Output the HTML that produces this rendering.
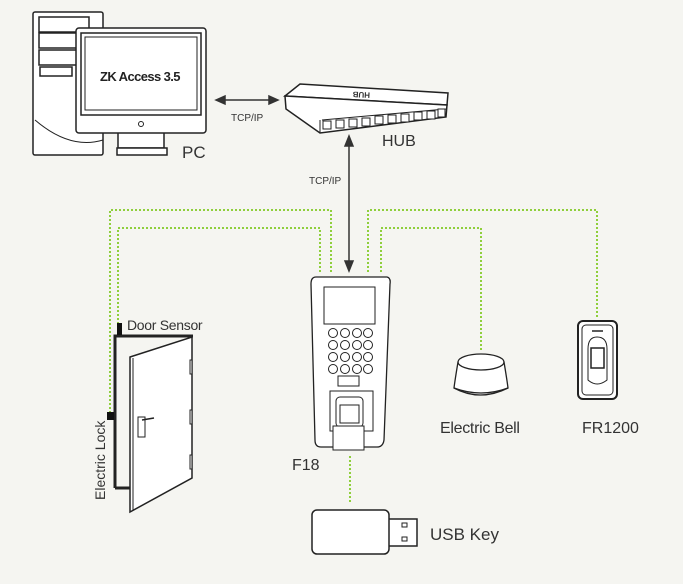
<!DOCTYPE html>
<html><head><meta charset="utf-8"><style>
html,body{margin:0;padding:0;background:#f5f5f1;}
svg{display:block;}
text{font-family:"Liberation Sans",sans-serif;fill:#333;}
</style></head><body>
<svg width="683" height="584" viewBox="0 0 683 584" xmlns="http://www.w3.org/2000/svg">
<rect width="683" height="584" fill="#f5f5f1"/>
<g fill="none" stroke="#8fcf3c" stroke-width="2" stroke-dasharray="2,2">
<polyline points="331,272 331,210 110,210 110,412"/>
<polyline points="320,272 320,228 118,228 118,325"/>
<polyline points="368,272 368,210 597,210 597,318"/>
<polyline points="381,272 381,228 481,228 481,350"/>
<line x1="350" y1="456" x2="350" y2="503"/>
</g>
<g stroke="#222" fill="#fff" stroke-width="1.5">
<rect x="33" y="12" width="70" height="143" rx="2"/>
<rect x="39" y="17" width="50" height="15" fill="#fff"/>
<rect x="39" y="33" width="50" height="15"/>
<rect x="39" y="50" width="50" height="15"/>
<rect x="40" y="67" width="32" height="9"/>
<path d="M35 120 Q70 150 103 140" fill="none" stroke-width="1"/>
<rect x="118" y="131" width="46" height="17"/>
<rect x="117" y="148" width="50" height="7"/>
<rect x="76" y="28" width="130" height="105" rx="3"/>
<rect x="81" y="33" width="120" height="82" stroke-width="1.5"/>
<rect x="85" y="37" width="112" height="73" stroke-width="1"/>
<circle cx="141" cy="124" r="2.5" stroke-width="1"/>
</g>
<text x="100" y="81" font-size="13" font-weight="bold" letter-spacing="-0.6" style="fill:#222">ZK Access 3.5</text>
<text x="182" y="158" font-size="17" fill="#555">PC</text>
<g stroke="#333" stroke-width="1.5" fill="#333">
<line x1="222" y1="100" x2="272" y2="100"/>
<polygon points="216,100 225,96 225,104"/>
<polygon points="278,100 269,96 269,104"/>
<line x1="349" y1="142" x2="349" y2="264"/>
<polygon points="349,136 345,146 353,146"/>
<polygon points="349,271 345,261 353,261"/>
</g>
<text x="231" y="121" font-size="10" fill="#444">TCP/IP</text>
<text x="309" y="184" font-size="10" fill="#444">TCP/IP</text>
<g stroke="#222" stroke-width="1.5" fill="#fff">
<polygon points="285,96 300,84 448,93 447,105"/>
<polygon points="285,96 447,105 446,117 320,133 286,109"/>
<path d="M320 120 L320 133 M322 120 L446 109" fill="none" stroke-width="1"/>
</g>
<g fill="#fff" stroke="#222" stroke-width="1">
<rect x="323" y="121" width="8" height="8"/><rect x="336" y="120" width="8" height="8"/><rect x="349" y="119" width="8" height="8"/><rect x="362" y="118" width="8" height="8"/><rect x="375" y="116" width="8" height="8"/><rect x="388" y="115" width="8" height="8"/><rect x="401" y="114" width="8" height="8"/><rect x="414" y="112" width="8" height="8"/><rect x="427" y="111" width="8" height="8"/><rect x="438" y="109" width="7" height="8"/>
</g>
<text x="350" y="98" font-size="8" font-weight="bold" transform="rotate(183 360 95)" fill="#333">HUB</text>
<text x="382" y="146" font-size="16" fill="#555">HUB</text>
<g stroke="#222" fill="#fff" stroke-width="1.3">
<path d="M316 277 L387 277 Q391 278 390 284 L384 440 Q383 447 377 447 L321 447 Q315 447 315 440 L311 284 Q311 277 316 277Z"/>
<rect x="324" y="287" width="51" height="37" stroke-width="1"/>
<rect x="338" y="376" width="21" height="10" stroke-width="1"/>
<rect x="330" y="391" width="43" height="40" stroke-width="1"/>
<rect x="336" y="397" width="27" height="30" rx="4" stroke-width="1"/>
<rect x="340" y="405" width="19" height="18" stroke-width="1"/>
<rect x="333" y="426" width="31" height="24" stroke-width="1"/>
</g>
<g fill="#fff" stroke="#222" stroke-width="1">
<circle cx="333" cy="333" r="4.5"/><circle cx="345" cy="333" r="4.5"/><circle cx="357" cy="333" r="4.5"/><circle cx="368" cy="333" r="4.5"/>
<circle cx="333" cy="345" r="4.5"/><circle cx="345" cy="345" r="4.5"/><circle cx="357" cy="345" r="4.5"/><circle cx="368" cy="345" r="4.5"/>
<circle cx="333" cy="357" r="4.5"/><circle cx="345" cy="357" r="4.5"/><circle cx="357" cy="357" r="4.5"/><circle cx="368" cy="357" r="4.5"/>
<circle cx="333" cy="369" r="4.5"/><circle cx="345" cy="369" r="4.5"/><circle cx="357" cy="369" r="4.5"/><circle cx="368" cy="369" r="4.5"/>
</g>
<text x="292" y="470" font-size="16" fill="#555">F18</text>
<g stroke="#222" fill="#fff" stroke-width="1.5">
<rect x="388" y="519" width="29" height="27"/>
<rect x="312" y="510" width="77" height="44" rx="5"/>
<rect x="402" y="523" width="5" height="4" stroke-width="1"/>
<rect x="402" y="537" width="5" height="4" stroke-width="1"/>
</g>
<text x="430" y="540" font-size="17" fill="#555">USB Key</text>
<g stroke="#222" fill="#fff" stroke-width="1.5">
<polyline points="115,488 115,336 193,336" fill="none" stroke-width="3"/>
<polyline points="115,488 132,488" fill="none" stroke-width="3"/>
<polygon points="130,357 192,337 192,478 130,512"/>
<line x1="133" y1="358" x2="133" y2="510" stroke-width="1"/>
<rect x="138" y="417" width="7" height="20" stroke-width="1"/>
<path d="M142 420 L154 418" stroke-width="1.5"/>
<rect x="190" y="360" width="2" height="14" stroke-width="1"/>
<rect x="190" y="410" width="2" height="14" stroke-width="1"/>
<rect x="190" y="455" width="2" height="14" stroke-width="1"/>
</g>
<rect x="117" y="323" width="5" height="12" fill="#111"/>
<rect x="107" y="412" width="7" height="8" fill="#111"/>
<text x="127" y="330" font-size="14" letter-spacing="-0.3" fill="#333">Door Sensor</text>
<text transform="translate(105 500) rotate(-90)" font-size="14" fill="#333">Electric Lock</text>
<g stroke="#222" fill="#fff" stroke-width="1.3">
<path d="M458 362 Q455 380 454 388 Q480 402 508 388 Q507 380 504 362Z"/>
<ellipse cx="481" cy="362" rx="23" ry="8"/>
<path d="M454 388 Q481 398 508 388" fill="none"/>
</g>
<text x="440" y="433" font-size="16" letter-spacing="-0.3" fill="#555">Electric Bell</text>
<g stroke="#222" fill="#fff">
<rect x="578" y="321" width="39" height="78" rx="5" stroke-width="2"/>
<rect x="582" y="325" width="31" height="70" rx="4" stroke-width="1"/>
<path d="M588 349 Q588 337 597 337 Q607 337 607 349 L607 380 Q597 388 588 380Z" stroke-width="1"/>
<rect x="591" y="348" width="13" height="20" stroke-width="1.5"/>
<line x1="592" y1="331" x2="603" y2="331" stroke-width="1.5"/>
</g>
<text x="582" y="433" font-size="16" fill="#555">FR1200</text>
</svg>
</body></html>
